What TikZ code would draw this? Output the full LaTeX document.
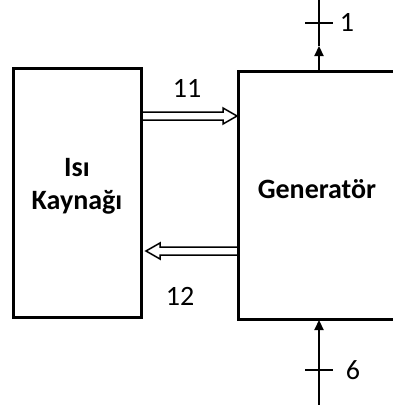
\documentclass[tikz,border=0pt]{standalone}
\usepackage{fontspec}
\setmainfont{Carlito}
\usetikzlibrary{arrows.meta}
\begin{document}
\begin{tikzpicture}[x=1pt,y=-1pt,
  box/.style={draw=black,line width=3pt},
  stream/.style={draw=black,line width=2.3pt},
  tip/.style={-{Triangle[length=10pt,width=9pt]}},
  hollow/.style={draw=black,line width=1.5pt,line join=miter},
  lbl/.style={font=\fontsize{28}{33}\selectfont,inner sep=0pt},
  blbl/.style={font=\bfseries\fontsize{28}{33}\selectfont,inner sep=0pt,align=center}]
\useasboundingbox (0,0) rectangle (393,405);
\clip (0,0) rectangle (393,405);
% boxes
\draw[box] (13,68) rectangle (141,317);
\node[blbl] (src) at (77,186) {Isı\\Kaynağı};
\draw[box] (238,71) rectangle (410,319);
\node[blbl] (gen) at (317,189) {Generatör};
% named points
\coordinate (a11s) at (141,116);
\coordinate (a11t) at (237,116);
\coordinate (a12s) at (238,251);
\coordinate (a12t) at (146,251);
% double arrow 11 (pointing right)
\draw[hollow] ([yshift=-4pt]a11s) -- ([xshift=-14pt,yshift=-4pt]a11t) -- ([xshift=-14pt,yshift=-8pt]a11t)
  -- (a11t) -- ([xshift=-14pt,yshift=8pt]a11t) -- ([xshift=-14pt,yshift=4pt]a11t) -- ([yshift=4pt]a11s);
\node[lbl] (l11) at (187,88) {11};
% double arrow 12 (pointing left)
\draw[hollow] ([yshift=-4pt]a12s) -- ([xshift=14pt,yshift=-4pt]a12t) -- ([xshift=14pt,yshift=-8pt]a12t)
  -- (a12t) -- ([xshift=14pt,yshift=8pt]a12t) -- ([xshift=14pt,yshift=4pt]a12t) -- ([yshift=4pt]a12s);
\node[lbl] (l12) at (180,296) {12};
% stream 1 (top)
\coordinate (s1b) at (319,71);
\coordinate (s1m) at (319,46);
\coordinate (s1t) at (319,0);
\coordinate (s1k) at (319,23);
\draw[stream,tip] (s1b) -- (s1m);
\draw[stream] (s1m) -- (s1t);
\draw[stream] ([xshift=-14pt]s1k) -- ([xshift=14pt]s1k);
\node[lbl] (l1) at (347,22) {1};
% stream 6 (bottom)
\coordinate (s6b) at (319,405);
\coordinate (s6m) at (319,336);
\coordinate (s6t) at (319,319);
\coordinate (s6k) at (319,370);
\draw[stream] (s6b) -- (s6m);
\draw[stream,tip] (s6m) -- ([yshift=-1pt]s6t);
\draw[stream] ([xshift=-14pt]s6k) -- ([xshift=14pt]s6k);
\node[lbl] (l6) at (353,370) {6};
\end{tikzpicture}
\end{document}
